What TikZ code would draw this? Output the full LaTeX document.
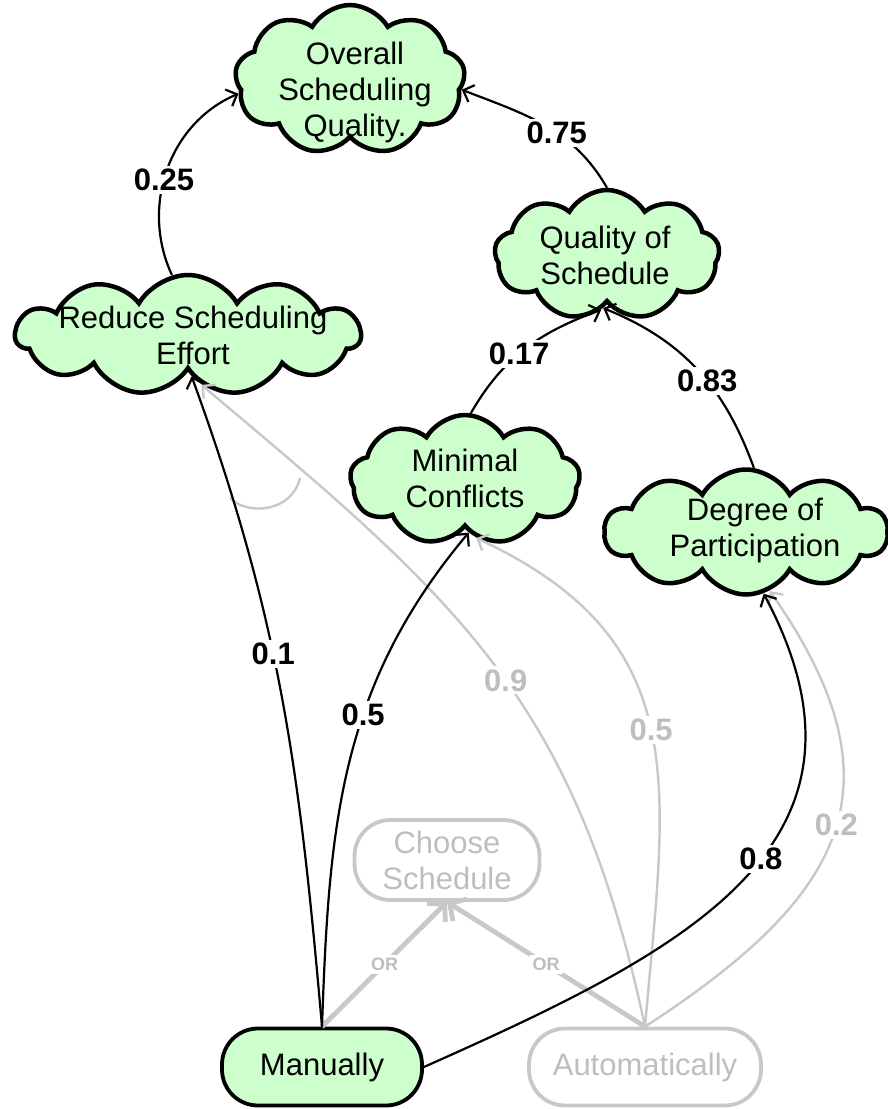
\documentclass[tikz,border=0pt]{standalone}
\usepackage{fontspec}
\setmainfont{Liberation Sans}
\usetikzlibrary{shapes.symbols,arrows.meta}
\definecolor{softgreen}{HTML}{CCFFCC}
\definecolor{lgray}{HTML}{C8C8C8}
\definecolor{tgray}{HTML}{BEBEBE}
\begin{document}
\begin{tikzpicture}[x=1pt,y=1pt,
  goal/.style={cloud, cloud puffs=#1, cloud puff arc=120, cloud ignores aspect,
    draw=black, fill=softgreen, line width=4.5pt, inner sep=0pt},
  goal/.default=10,
  gtext/.style={align=center, inner sep=0pt, text=black, font=\fontsize{31}{36}\selectfont},
  task/.style={rectangle, rounded corners=36pt, line width=3.8pt, align=center,
    font=\fontsize{31}{36}\selectfont},
  contrib/.style={draw=black, line width=2.2pt,
    -{Straight Barb[length=9pt,width=18pt,line width=2.2pt]}},
  gcontrib/.style={draw=lgray, line width=2.4pt,
    -{Straight Barb[length=9pt,width=18pt,line width=2.4pt]}},
  lbl/.style={fill=white, inner sep=3pt, text=black, font=\bfseries\fontsize{31}{33}\selectfont},
  glbl/.style={lbl, text=tgray},
  orlink/.style={draw=lgray, line width=4.8pt,
    -{Straight Barb[length=12pt,width=26pt,line width=4.8pt]}},
  orlbl/.style={fill=white, inner sep=3pt, text=tgray, font=\bfseries\fontsize{18}{20}\selectfont}
]
\useasboundingbox (0,0) rectangle (888,-1109);

% goals (clouds)
\node[goal=9, minimum width=230, minimum height=150] (overall) at (350,-80) {};
\node[gtext] (overall-t) at (355,-92) {Overall\\Scheduling\\Quality.};
\node[goal=9, minimum width=225, minimum height=130] (quality) at (607,-255) {};
\node[gtext] (quality-t) at (605,-255) {Quality of\\Schedule};
\node[goal=11, minimum width=345, minimum height=120] (reduce) at (188,-335) {};
\node[gtext] (reduce-t) at (193,-335) {Reduce Scheduling\\Effort};
\node[goal=9, minimum width=230, minimum height=130] (minimal) at (465,-480) {};
\node[gtext] (minimal-t) at (465,-478) {Minimal\\Conflicts};
\node[goal=10, minimum width=283, minimum height=125] (degree) at (746,-532) {};
\node[gtext] (degree-t) at (755,-530) {Degree of\\Participation};

% tasks
\node[task, draw=lgray, text=tgray, minimum width=185, minimum height=80] (choose) at (447,-860) {Choose\\Schedule};
\node[task, draw=black, fill=softgreen, text=black, minimum width=200, minimum height=77] (manually) at (322,-1067) {Manually};
\node[task, draw=lgray, text=tgray, minimum width=232, minimum height=77] (auto) at (645,-1067) {Automatically};

% gray contributions
\draw[gcontrib] (auto.north) to[out=102, in=320, looseness=1.1] node[glbl, pos=0.47] {0.9} (reduce.285);
\draw[gcontrib] (auto.north) to[out=85, in=335, looseness=1.2] node[glbl, pos=0.5] {0.5} (minimal.281);
\draw[gcontrib] (auto.north) to[out=33, in=305, looseness=1.35] node[glbl, pos=0.52] {0.2} (degree.292);
\draw[draw=lgray, line width=2.4pt] (230,-498) .. controls (248,-516) and (292,-512) .. (300,-478);

% OR decomposition
\draw[orlink] (manually.north) -- node[orlbl] {OR} (choose.south);
\draw[orlink] (auto.north) -- node[orlbl] {OR} (choose.south);

% black contributions
\draw[contrib] (reduce.105) to[out=115, in=203] node[lbl, pos=0.45] {0.25} (overall.187);
\draw[contrib] (quality.90) to[out=120, in=339] node[lbl, pos=0.42] {0.75} (overall.355);
\draw[contrib] (minimal.85) to[out=60, in=200] node[lbl, pos=0.45] {0.17} (quality.264);
\draw[contrib] (degree.83) to[out=110, in=338] node[lbl, pos=0.43] {0.83} (quality.266);
\draw[contrib] (manually.north) to[out=95, in=290] node[lbl, pos=0.57] {0.1} (reduce.275);
\draw[contrib] (manually.north) to[out=88, in=230] node[lbl, pos=0.6] {0.5} (minimal.274);
\draw[contrib] (manually.east) to[out=24, in=298, looseness=1.25] node[lbl, pos=0.55] {0.8} (degree.286);
\end{tikzpicture}
\end{document}
